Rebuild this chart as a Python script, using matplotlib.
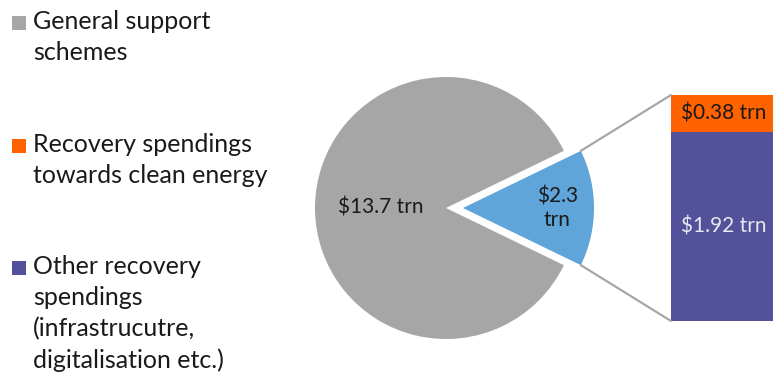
import numpy as np
import matplotlib.pyplot as plt
from matplotlib.patches import ConnectionPatch, Rectangle

plt.rcParams['font.family'] = ['Lato', 'DejaVu Sans']

# data (trillion USD)
pie_values = [13.7, 2.3]
pie_labels = ['$13.7 trn', '$2.3\ntrn']
bar_values = [1.92, 0.38]
bar_labels = ['$1.92 trn', '$0.38 trn']
legend_labels = ['General support\nschemes',
                 'Recovery spendings\ntowards clean energy',
                 'Other recovery\nspendings\n(infrastrucutre,\ndigitalisation etc.)']

grey = '#a6a6a6'
blue = '#5fa5da'
orange = '#ff6200'
purple = '#525199'
legend_colors = [grey, orange, purple]

W, H = 773, 376
fig = plt.figure(figsize=(W / 100, H / 100), dpi=100)

# main axes in pixel units (y up)
ax = fig.add_axes([0, 0, 1, 1])
start = pie_values[1] / sum(pie_values) * 360 / 2
wedges, _ = ax.pie(pie_values, colors=[grey, blue], startangle=start,
                   explode=[0, 17], center=(446, 168), radius=131,
                   wedgeprops=dict(linewidth=0))
ax.set_xlim(0, W)
ax.set_ylim(0, H)
ax.set_aspect('auto')
ax.axis('off')

# pie labels
gx, gy = wedges[0].center
ax.text(gx - 0.5 * wedges[0].r, gy, pie_labels[0].replace('$', r'\$'),
        ha='center', va='center', fontsize=15, color='#1a1a1a')
bx, by = wedges[1].center
ax.text(bx + 0.72 * wedges[1].r, by, pie_labels[1].replace('$', r'\$'),
        ha='center', va='center', fontsize=15, color='#1a1a1a', linespacing=1.2)

# stacked bar
ax2 = fig.add_axes([671 / W, (H - 321) / H, 106 / W, 226 / H])
bottom = 0
bar_colors = [purple, orange]
text_colors = ['#e8e8f0', '#1a1a1a']
for v, lab, c, tc in zip(bar_values, bar_labels, bar_colors, text_colors):
    bc = ax2.bar(0, v, width=1, bottom=bottom, color=c, linewidth=0)
    ax2.bar_label(bc, labels=[lab.replace('$', r'\$')], label_type='center',
                  color=tc, fontsize=15)
    bottom += v
ax2.set_xlim(-0.5, 0.5)
ax2.set_ylim(0, sum(bar_values))
ax2.axis('off')

# connection lines
w = wedges[1]
for theta, yb in [(w.theta2, sum(bar_values)), (w.theta1, 0)]:
    x = bx + w.r * np.cos(np.radians(theta))
    y = by + w.r * np.sin(np.radians(theta))
    con = ConnectionPatch(xyA=(-0.5, yb), coordsA=ax2.transData,
                          xyB=(x, y), coordsB=ax.transData,
                          color=grey, linewidth=1.6)
    fig.add_artist(con)

# legend
legend_y = [23, 146, 268]
for lab, c, yc in zip(legend_labels, legend_colors, legend_y):
    ax.add_patch(Rectangle((12, H - yc - 7), 14, 14, color=c, linewidth=0))
    ax.text(33, H - yc + 13, lab, ha='left', va='top', fontsize=18,
            color='#1a1a1a', linespacing=1.42)

fig.savefig('out.png', dpi=100)
